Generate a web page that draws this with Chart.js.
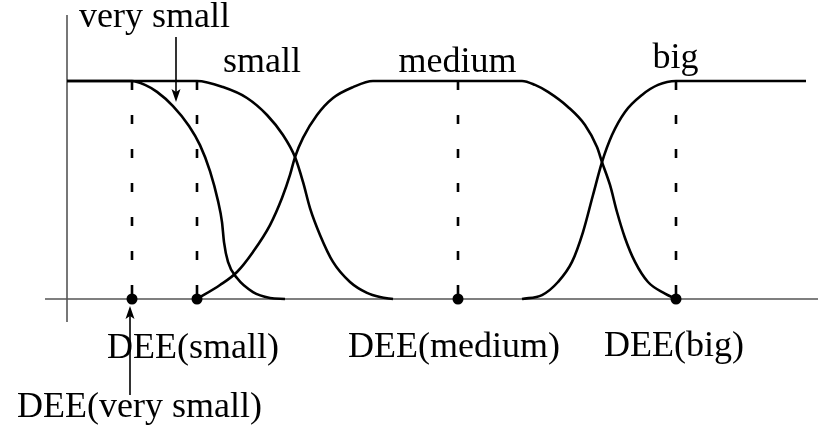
<!DOCTYPE html>
<html>
<head>
<meta charset="utf-8">
<script src="https://cdn.jsdelivr.net/npm/chart.js@4.4.1/dist/chart.umd.min.js"></script>
<style>
html,body{margin:0;padding:0;background:#fff;}
#wrap{width:818px;height:434px;position:relative;}
</style>
</head>
<body>
<div id="wrap"><canvas id="c"></canvas></div>
<script>
// ---- data (x: position along the universe, y: membership degree 0..1) ----
const verySmallX = [0, 65, 78, 90, 106, 122, 133, 143, 151, 155, 157, 161, 170, 186, 203, 218];
const verySmallY = [1, 1, 0.982, 0.950, 0.885, 0.794, 0.706, 0.587, 0.450, 0.353, 0.261, 0.170, 0.096, 0.032, 0.005, 0];

const smallX = [0, 130, 156, 180, 200, 216, 228, 236, 243, 253, 266, 283, 300, 313, 326];
const smallY = [1, 1, 0.972, 0.922, 0.844, 0.752, 0.651, 0.537, 0.417, 0.294, 0.170, 0.078, 0.028, 0.009, 0];

const mediumX = [130, 153, 170, 186, 203, 215, 223, 228, 236, 250, 266, 286, 306, 455, 468, 481, 501, 518, 530, 535, 543, 550, 558, 568, 581, 598, 609];
const mediumY = [0, 0.064, 0.124, 0.216, 0.339, 0.463, 0.569, 0.651, 0.739, 0.844, 0.922, 0.972, 1, 1, 0.982, 0.950, 0.881, 0.798, 0.697, 0.628, 0.523, 0.399, 0.280, 0.170, 0.078, 0.025, 0];

const bigX = [455, 475, 491, 505, 516, 526, 535, 545, 558, 575, 591, 609, 739];
const bigY = [0, 0.018, 0.078, 0.170, 0.307, 0.477, 0.628, 0.752, 0.858, 0.936, 0.982, 1, 1];

// DEE points (x positions of the defuzzified values)
const deeNames = ['very small', 'small', 'medium', 'big'];
const deeX = [65, 130, 391, 609];

// term labels
const termLabels = ['very small', 'small', 'medium', 'big'];
const termLabelX = [87.5, 195, 390.5, 608.5];
const termLabelY = [1.248, 1.041, 1.041, 1.060];

// DEE labels
const deeLabels = ['DEE(very small)', 'DEE(small)', 'DEE(medium)', 'DEE(big)'];
const deeLabelX = [72.5, 126, 387, 607];
const deeLabelY = [-0.541, -0.271, -0.266, -0.261];

// arrows [x, yFrom, yTip]
const arrowX = [109, 63];
const arrowFrom = [1.202, -0.440];
const arrowTip = [0.904, -0.032];

// axes extents
const xAxisFrom = -22, xAxisTo = 751;
const yAxisFrom = -0.106, yAxisTo = 1.303;

// ---- build datasets ----
const pts = (xs, ys) => xs.map((x, i) => ({x: x, y: ys[i]}));
const curveStyle = {borderColor: '#000', borderWidth: 2.6, pointRadius: 0, fill: false, cubicInterpolationMode: 'monotone', showLine: true};

const datasets = [];
datasets.push({label: 'DEE', data: deeX.map(x => ({x: x, y: 0})), showLine: false, pointRadius: 5.5, pointBackgroundColor: '#000', pointBorderColor: '#000', pointBorderWidth: 0});
datasets.push(Object.assign({label: 'very small', data: pts(verySmallX, verySmallY)}, curveStyle));
datasets.push(Object.assign({label: 'small', data: pts(smallX, smallY)}, curveStyle));
datasets.push(Object.assign({label: 'medium', data: pts(mediumX, mediumY)}, curveStyle));
datasets.push(Object.assign({label: 'big', data: pts(bigX, bigY)}, curveStyle));
deeX.forEach((x, i) => {
  datasets.push({label: 'dash ' + deeNames[i], data: [{x: x, y: 1}, {x: x, y: 0}], showLine: true, borderColor: '#000', borderWidth: 2.6, borderDash: [9, 25], pointRadius: 0, borderCapStyle: 'butt'});
});
datasets.push({label: 'x axis', data: [{x: xAxisFrom, y: 0}, {x: xAxisTo, y: 0}], showLine: true, borderColor: '#555', borderWidth: 1.6, pointRadius: 0});
datasets.push({label: 'y axis', data: [{x: 0, y: yAxisFrom}, {x: 0, y: yAxisTo}], showLine: true, borderColor: '#555', borderWidth: 1.6, pointRadius: 0});

const annot = {
  id: 'annot',
  afterDatasetsDraw(chart) {
    const ctx = chart.ctx, xs = chart.scales.x, ys = chart.scales.y;
    ctx.save();
    ctx.fillStyle = '#000';
    ctx.strokeStyle = '#000';
    // arrows
    arrowX.forEach((ax, i) => {
      const px = xs.getPixelForValue(ax);
      const p0 = ys.getPixelForValue(arrowFrom[i]);
      const p1 = ys.getPixelForValue(arrowTip[i]);
      const dir = p1 > p0 ? 1 : -1;
      ctx.lineWidth = 1.6;
      ctx.beginPath();
      ctx.moveTo(px, p0);
      ctx.lineTo(px, p1 - dir * 8);
      ctx.stroke();
      ctx.beginPath();
      ctx.moveTo(px, p1);
      ctx.lineTo(px - 4.5, p1 - dir * 13);
      ctx.lineTo(px, p1 - dir * 10);
      ctx.lineTo(px + 4.5, p1 - dir * 13);
      ctx.closePath();
      ctx.fill();
    });
    // text
    ctx.font = '36px "Liberation Serif", "Times New Roman", serif';
    ctx.textAlign = 'center';
    ctx.textBaseline = 'alphabetic';
    termLabels.forEach((t, i) => {
      ctx.fillText(t, xs.getPixelForValue(termLabelX[i]), ys.getPixelForValue(termLabelY[i]));
    });
    deeLabels.forEach((t, i) => {
      ctx.fillText(t, xs.getPixelForValue(deeLabelX[i]), ys.getPixelForValue(deeLabelY[i]));
    });
    ctx.restore();
  }
};

new Chart(document.getElementById('c'), {
  type: 'scatter',
  data: {datasets: datasets},
  options: {
    responsive: true,
    maintainAspectRatio: false,
    animation: false,
    layout: {padding: 0, autoPadding: false},
    plugins: {legend: {display: false}, tooltip: {enabled: false}},
    scales: {
      x: {type: 'linear', display: false, min: -67, max: 751},
      y: {type: 'linear', display: false, min: -0.61927, max: 1.37156}
    }
  },
  plugins: [annot]
});
</script>
</body>
</html>
